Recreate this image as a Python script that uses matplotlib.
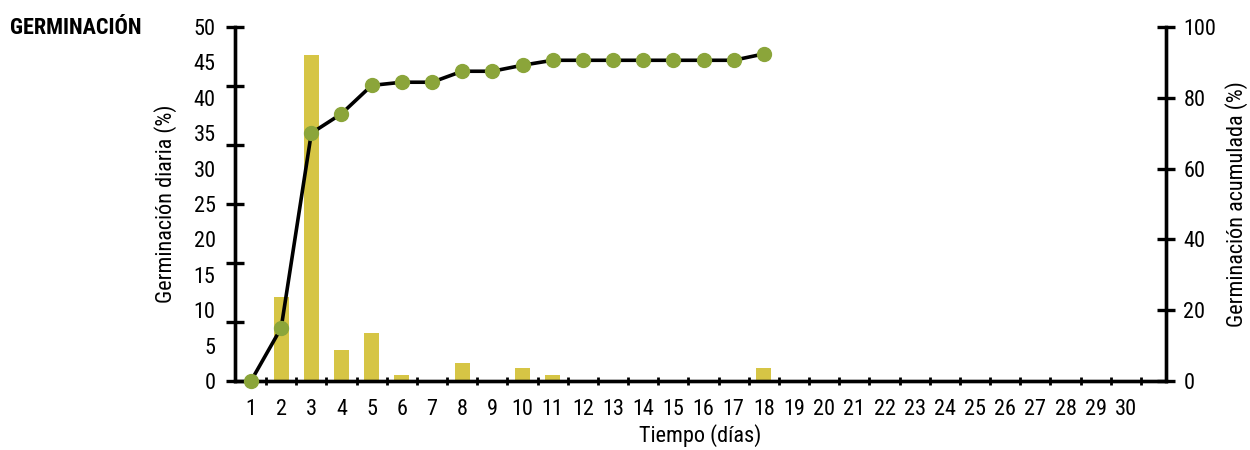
import matplotlib.pyplot as plt
import numpy as np

plt.rcParams['font.family'] = ['Roboto Condensed', 'Liberation Sans Narrow', 'Roboto', 'DejaVu Sans']

# Daily and cumulative germination
days = list(range(1, 31))
bar_days = [2, 3, 4, 5, 6, 8, 10, 11, 18]
daily = [11.8, 46.1, 4.4, 6.8, 0.8, 2.5, 1.8, 0.8, 1.8]
cum_days = list(range(1, 19))
cumulative = [0, 15, 70, 75.5, 83.5, 84.4, 84.4, 87.5, 87.5, 89.2, 90.6,
              90.6, 90.6, 90.6, 90.6, 90.6, 90.6, 92.4]

left_labels = [0, 5, 10, 15, 20, 25, 30, 35, 40, 45, 50]
right_ticks = [0, 20, 40, 60, 80, 100]

bar_color = '#d6c545'
dot_color = '#8ba53a'

fig = plt.figure(figsize=(12.5, 4.5), dpi=100)
ax = fig.add_axes([0.188, 0.1533, 0.7448, 0.7867])
ax2 = ax.twinx()

ax.bar(bar_days, daily, width=0.5, color=bar_color, zorder=2)
ax2.plot(cum_days, cumulative, color='black', lw=2.6, zorder=3,
         marker='o', markersize=10, markerfacecolor=dot_color,
         markeredgecolor=dot_color, clip_on=False)

ax.set_xlim(0.47, 31.33)
ax.set_ylim(0, 50)
ax2.set_ylim(0, 100)

for a in (ax, ax2):
    a.spines['top'].set_visible(False)
    for s in ('left', 'right', 'bottom'):
        a.spines[s].set_linewidth(2.4)

# left axis: labels every 5, tick marks in six intervals (as drawn in the source)
ax.yaxis.remove_overlapping_locs = False
ax.set_yticks(left_labels)
ax.set_yticklabels([str(v) for v in left_labels])
ax.tick_params(axis='y', which='major', length=0, pad=14, labelsize=16)
ax.set_yticks(np.linspace(0, 50, 7), minor=True)
ax.tick_params(axis='y', which='minor', direction='inout', length=13, width=2.4)

ax.set_xticks(days)
ax.set_xticklabels([str(d) for d in days])
ax.tick_params(axis='x', which='major', length=0, pad=13, labelsize=16)
ax.set_xticks([d + 0.5 for d in days], minor=True)
ax.tick_params(axis='x', which='minor', direction='inout', length=6, width=2)

ax2.set_yticks(right_ticks)
ax2.tick_params(axis='y', direction='inout', length=13, width=2.4, pad=6, labelsize=16)

ax.set_ylabel('Germinación diaria (%)', fontsize=16, labelpad=12)
ax2.set_ylabel('Germinación acumulada (%)', fontsize=16, labelpad=6)
ax.set_xlabel('Tiempo (días)', fontsize=16, labelpad=3)

fig.text(0.008, 0.937, 'GERMINACIÓN', fontsize=16, fontweight='bold',
         va='center', ha='left')

fig.savefig('out.png', dpi=100)
